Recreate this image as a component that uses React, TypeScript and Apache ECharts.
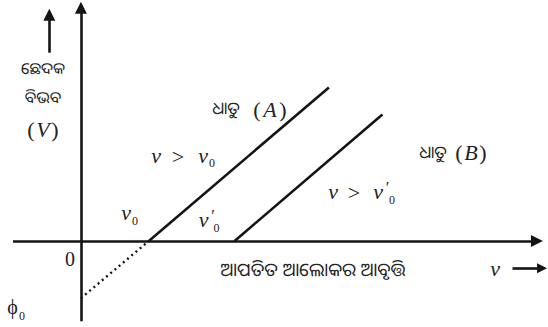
import React, { useEffect, useRef } from "react";
import * as echarts from "echarts";

// Data (arbitrary units: frequency ν on x, stopping potential V on y)
const lineA: number[][] = [[4, 0], [14.6, 8.92]];
const lineB: number[][] = [[9.05, 0], [17.75, 7.35]];
const extrapolation: number[][] = [[0, -3.33], [4, 0]];
const xAxisLine: number[][] = [[-4, 0], [26.85, 0]];
const yAxisLine: number[][] = [[0, -4.67], [0, 13.55]];
const vArrow: number[][] = [[-1.86, 10.94], [-1.86, 13.15]];
const nuArrow: number[][] = [[25.41, -1.59], [27.15, -1.59]];

const INK = "#141414";
const SERIF = '"Liberation Serif", "DejaVu Serif", serif';
const ORIYA = '"Noto Sans Oriya", "Lohit Odia", "Noto Sans", sans-serif';

type G = { t: string; x: number; y: number; size: number; italic?: boolean; family?: string };

const glyphs: G[] = [
  { t: "ଛେଦକ", x: 43, y: 68, size: 16, family: ORIYA },
  { t: "ବିଭବ", x: 43, y: 97, size: 16, family: ORIYA },
  { t: "(", x: 31, y: 129, size: 22 },
  { t: "V", x: 43, y: 129, size: 22, italic: true },
  { t: ")", x: 55, y: 129, size: 22 },
  { t: "0", x: 70, y: 259, size: 20 },
  { t: "ϕ", x: 12.5, y: 307, size: 20 },
  { t: "0", x: 22, y: 316, size: 12 },
  { t: "ν", x: 126, y: 212, size: 22, italic: true },
  { t: "0", x: 135, y: 221, size: 12 },
  { t: "ν", x: 156, y: 155.5, size: 22, italic: true },
  { t: ">", x: 178, y: 156, size: 22 },
  { t: "ν", x: 203, y: 155.5, size: 22, italic: true },
  { t: "0", x: 212, y: 163, size: 12 },
  { t: "ଧାତୁ", x: 226, y: 107, size: 17, family: ORIYA },
  { t: "(", x: 257, y: 109, size: 22 },
  { t: "A", x: 270, y: 109, size: 22, italic: true },
  { t: ")", x: 283, y: 109, size: 22 },
  { t: "ν", x: 203.5, y: 219.5, size: 22, italic: true },
  { t: "′", x: 213, y: 215, size: 16 },
  { t: "0", x: 216.5, y: 228, size: 12 },
  { t: "ν", x: 333, y: 191, size: 22, italic: true },
  { t: ">", x: 354, y: 192, size: 22 },
  { t: "ν", x: 378, y: 191, size: 22, italic: true },
  { t: "′", x: 387.5, y: 187, size: 16 },
  { t: "0", x: 392, y: 200, size: 12 },
  { t: "ଧାତୁ", x: 433, y: 151, size: 17, family: ORIYA },
  { t: "(", x: 459, y: 152, size: 22 },
  { t: "B", x: 471, y: 152, size: 22, italic: true },
  { t: ")", x: 483, y: 152, size: 22 },
  { t: "ଆପତିତ ଆଲୋକର ଆବୃତ୍ତି", x: 313, y: 268, size: 18.5, family: ORIYA },
  { t: "ν", x: 495, y: 268, size: 22, italic: true },
];

const arrowLine = (pts: number[][], size: number) => [
  { coord: pts[0], symbol: "none", symbolSize: size },
  { coord: pts[1], symbol: "triangle", symbolSize: size },
];

export default function App() {
  const ref = useRef<HTMLDivElement>(null);
  useEffect(() => {
    if (!ref.current) return;
    const chart = echarts.init(ref.current, undefined, { renderer: "svg" });
    const solid = { color: INK, width: 2.6, type: "solid" as const, opacity: 1 };
    chart.setOption({
      animation: false,
      grid: { left: 4.5, top: 0, width: 544, height: 327.75, containLabel: false },
      xAxis: { type: "value", min: -4.5, max: 27.5, show: false },
      yAxis: { type: "value", min: -5, max: 14, show: false },
      graphic: glyphs.map((g) => ({
        type: "text",
        x: g.x,
        y: g.y,
        silent: true,
        style: {
          text: g.t,
          font: `${g.italic ? "italic " : ""}${g.size}px ${g.family ?? SERIF}`,
          fill: "#222",
          align: "center",
          verticalAlign: "middle",
        },
      })),
      series: [
        {
          type: "line",
          data: lineA,
          symbol: "none",
          lineStyle: solid,
          silent: true,
        },
        {
          type: "line",
          data: lineB,
          symbol: "none",
          lineStyle: solid,
          silent: true,
        },
        {
          type: "line",
          data: extrapolation,
          symbol: "none",
          lineStyle: { color: INK, width: 2.4, type: [2, 3.5] },
          silent: true,
        },
        {
          type: "line",
          data: [],
          silent: true,
          markLine: {
            silent: true,
            symbolSize: 12,
            label: { show: false },
            lineStyle: solid,
            emphasis: { disabled: true },
            data: [
              arrowLine(xAxisLine, 12),
              arrowLine(yAxisLine, 12),
              arrowLine(vArrow, 12),
              arrowLine(nuArrow, 10),
            ],
          },
        },
      ],
    });
    return () => chart.dispose();
  }, []);
  return (
    <div
      ref={ref}
      style={{ position: "fixed", left: 0, top: 0, width: 548, height: 327, background: "#fff" }}
    />
  );
}
